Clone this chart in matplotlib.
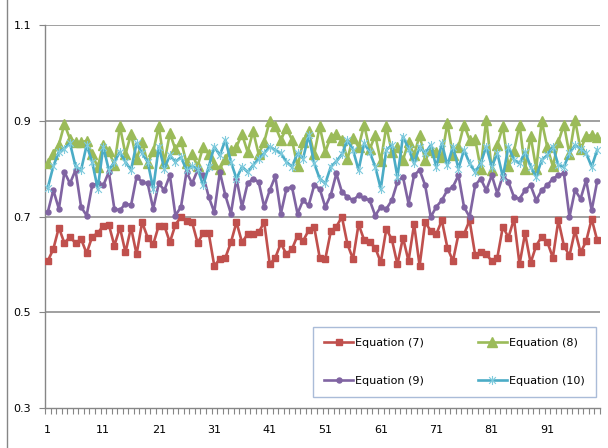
import numpy as np
import matplotlib
matplotlib.use("Agg")
import matplotlib.pyplot as plt
from matplotlib.path import Path
from matplotlib.lines import Line2D

labels = ["Equation (7)", "Equation (8)", "Equation (9)", "Equation (10)"]
x_ticks = [1, 11, 21, 31, 41, 51, 61, 71, 81, 91]
y_ticks = [0.3, 0.5, 0.7, 0.9, 1.1]

eq7 = [
    0.607, 0.632, 0.677, 0.644, 0.658, 0.644, 0.653, 0.623, 0.658, 0.665,
    0.681, 0.683, 0.639, 0.677, 0.625, 0.677, 0.621, 0.688, 0.656, 0.642,
    0.681, 0.681, 0.646, 0.683, 0.699, 0.690, 0.688, 0.645, 0.665, 0.665,
    0.597, 0.611, 0.614, 0.646, 0.688, 0.646, 0.663, 0.663, 0.667, 0.688,
    0.600, 0.614, 0.644, 0.621, 0.632, 0.660, 0.649, 0.671, 0.678, 0.614,
    0.611, 0.669, 0.679, 0.699, 0.642, 0.611, 0.684, 0.651, 0.646, 0.635,
    0.604, 0.674, 0.652, 0.600, 0.656, 0.607, 0.684, 0.597, 0.688, 0.670,
    0.663, 0.692, 0.635, 0.607, 0.663, 0.663, 0.692, 0.620, 0.625, 0.621,
    0.607, 0.614, 0.679, 0.656, 0.695, 0.600, 0.665, 0.603, 0.639, 0.658,
    0.647, 0.614, 0.692, 0.639, 0.618, 0.671, 0.625, 0.648, 0.695, 0.650]

eq8 = [
    0.811, 0.830, 0.850, 0.893, 0.862, 0.856, 0.855, 0.858, 0.830, 0.803,
    0.850, 0.836, 0.808, 0.888, 0.830, 0.872, 0.820, 0.855, 0.812, 0.836,
    0.888, 0.812, 0.874, 0.840, 0.858, 0.812, 0.830, 0.805, 0.846, 0.830,
    0.810, 0.800, 0.820, 0.838, 0.846, 0.872, 0.835, 0.878, 0.830, 0.856,
    0.900, 0.888, 0.860, 0.885, 0.860, 0.805, 0.855, 0.878, 0.830, 0.888,
    0.835, 0.867, 0.872, 0.860, 0.820, 0.865, 0.845, 0.892, 0.840, 0.870,
    0.815, 0.888, 0.835, 0.845, 0.818, 0.856, 0.828, 0.870, 0.818, 0.838,
    0.835, 0.825, 0.895, 0.828, 0.846, 0.892, 0.860, 0.862, 0.800, 0.902,
    0.798, 0.850, 0.888, 0.805, 0.836, 0.892, 0.800, 0.868, 0.800, 0.899,
    0.845, 0.805, 0.856, 0.892, 0.830, 0.902, 0.840, 0.868, 0.870, 0.867]

eq9 = [
    0.709, 0.755, 0.716, 0.793, 0.769, 0.797, 0.720, 0.702, 0.765, 0.769,
    0.765, 0.793, 0.716, 0.713, 0.727, 0.723, 0.783, 0.772, 0.769, 0.716,
    0.769, 0.755, 0.786, 0.702, 0.720, 0.793, 0.769, 0.797, 0.786, 0.741,
    0.709, 0.793, 0.744, 0.706, 0.779, 0.720, 0.769, 0.779, 0.772, 0.720,
    0.755, 0.784, 0.706, 0.758, 0.762, 0.706, 0.734, 0.723, 0.765, 0.758,
    0.720, 0.745, 0.790, 0.751, 0.741, 0.734, 0.744, 0.738, 0.734, 0.702,
    0.720, 0.716, 0.734, 0.772, 0.783, 0.727, 0.786, 0.797, 0.765, 0.699,
    0.720, 0.734, 0.755, 0.762, 0.786, 0.720, 0.699, 0.765, 0.779, 0.755,
    0.786, 0.748, 0.786, 0.772, 0.741, 0.737, 0.755, 0.765, 0.734, 0.755,
    0.765, 0.779, 0.786, 0.790, 0.699, 0.755, 0.737, 0.776, 0.713, 0.774]

eq10 = [
    0.760, 0.805, 0.835, 0.842, 0.853, 0.805, 0.797, 0.849, 0.814, 0.758,
    0.846, 0.797, 0.814, 0.835, 0.814, 0.797, 0.853, 0.832, 0.814, 0.758,
    0.846, 0.800, 0.828, 0.814, 0.824, 0.797, 0.805, 0.800, 0.765, 0.804,
    0.846, 0.828, 0.860, 0.814, 0.779, 0.804, 0.793, 0.807, 0.821, 0.832,
    0.846, 0.839, 0.832, 0.814, 0.804, 0.832, 0.821, 0.870, 0.811, 0.779,
    0.769, 0.804, 0.815, 0.830, 0.860, 0.839, 0.797, 0.853, 0.835, 0.804,
    0.758, 0.839, 0.849, 0.783, 0.867, 0.842, 0.811, 0.846, 0.832, 0.849,
    0.804, 0.853, 0.807, 0.846, 0.800, 0.839, 0.811, 0.793, 0.811, 0.846,
    0.804, 0.832, 0.783, 0.846, 0.818, 0.811, 0.835, 0.804, 0.783, 0.818,
    0.828, 0.846, 0.807, 0.804, 0.832, 0.849, 0.842, 0.832, 0.804, 0.839]

x = np.arange(1, len(eq7) + 1)

# Excel-like asterisk marker (X with vertical bar)
star = Path([(0, -1), (0, 1), (-0.75, -0.75), (0.75, 0.75), (-0.75, 0.75), (0.75, -0.75)],
            [Path.MOVETO, Path.LINETO, Path.MOVETO, Path.LINETO, Path.MOVETO, Path.LINETO])

fig = plt.figure(figsize=(6.08, 4.48), dpi=100)
ax = fig.add_axes([45 / 608, 40 / 448, 555 / 608, 383 / 448])

lw = 1.9
h7, = ax.plot(x, eq7, color="#C0504D", lw=lw, marker="s", ms=5, mec="#C0504D", label=labels[0], zorder=3)
h8, = ax.plot(x, eq8, color="#9BBB59", lw=lw, marker="^", ms=6.5, mec="#9BBB59", label=labels[1], zorder=3)
h9, = ax.plot(x, eq9, color="#8064A2", lw=lw, marker="o", ms=3.6, mec="#8064A2", label=labels[2], zorder=3)
h10, = ax.plot(x, eq10, color="#4BACC6", lw=lw, marker=star, ms=6.5, mew=0.8, mec="#7FCBDD",
               mfc="none", label=labels[3], zorder=3)

ax.set_xlim(0.5, 100.5)
ax.set_ylim(0.3, 1.1)
ax.set_yticks(y_ticks)
ax.set_yticklabels([f"{v:.1f}" for v in y_ticks])
ax.set_xticks(x_ticks)
ax.set_xticklabels([str(v) for v in x_ticks])
ax.set_xticks(np.arange(0.5, 101, 1), minor=True)
ax.tick_params(axis="x", which="major", length=0, pad=12, labelsize=8, colors="#000000")
ax.tick_params(axis="x", which="minor", length=4, width=0.8, color="#868686", direction="out")
ax.tick_params(axis="y", which="major", length=4, width=0.8, color="#868686", pad=6, labelsize=8)

for v in y_ticks[1:]:
    ax.axhline(v, color="#868686", lw=1.1, zorder=1)

for s in ["top", "right"]:
    ax.spines[s].set_visible(False)
for s in ["left", "bottom"]:
    ax.spines[s].set_color("#868686")
    ax.spines[s].set_linewidth(1.0)

# order so that rows read: (7) (8) / (9) (10)
handles = [h7, h9, h8, h10]
leg_labels = [labels[0], labels[2], labels[1], labels[3]]
leg = ax.legend(handles, leg_labels, ncol=2, loc="lower left",
                bbox_to_anchor=(313 / 608, 51 / 448, 283 / 608, 75 / 448),
                bbox_transform=fig.transFigure, mode="expand", borderaxespad=0,
                fontsize=8, handlelength=2.6, handletextpad=0.2, labelspacing=2.5,
                borderpad=1.0, columnspacing=2.0, fancybox=False, frameon=True)
leg.get_frame().set_edgecolor("#95ABCF")
leg.get_frame().set_linewidth(1.0)

fig.add_artist(Line2D([7 / 608, 7 / 608], [0, 1], color="#868686", lw=1.0,
                      transform=fig.transFigure))

fig.savefig("out.png", dpi=100)
